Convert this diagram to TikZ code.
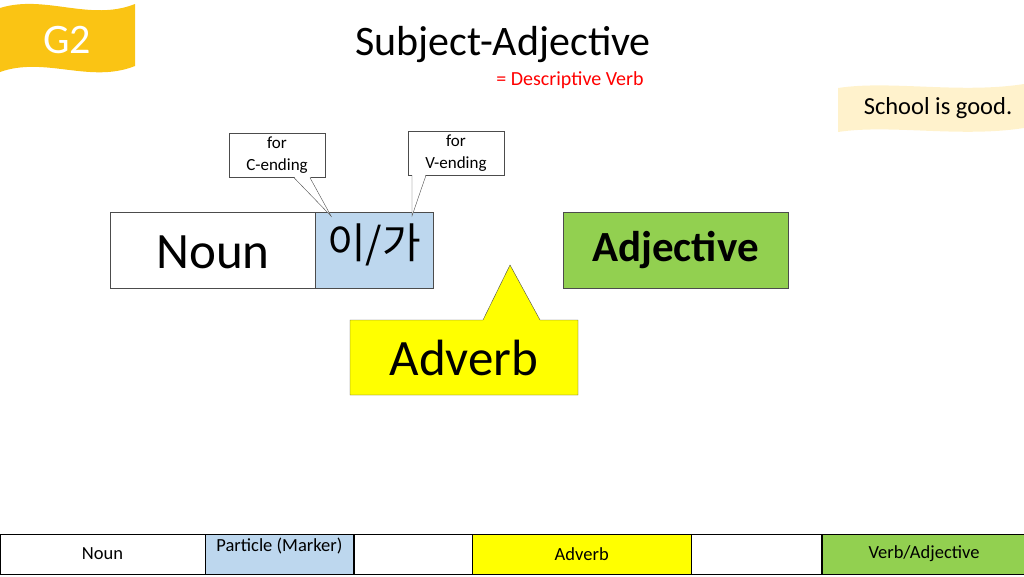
\documentclass[tikz,border=0pt]{standalone}
\usepackage{fontspec}
\setmainfont{Carlito}
\newfontfamily\kofont{Noto Sans CJK KR}
\usetikzlibrary{positioning, calc}
\definecolor{flagGold}{RGB}{250,196,20}
\definecolor{noteYellow}{RGB}{255,242,204}
\definecolor{particleBlue}{RGB}{189,215,238}
\definecolor{adjGreen}{RGB}{146,208,80}
\definecolor{adverbYellow}{RGB}{255,255,0}

\begin{document}
\begin{tikzpicture}[
    x=1pt, y=-1pt,
    wordbox/.style={rectangle, draw=black!70, inner sep=0pt},
    notebox/.style={rectangle, draw=black!70, fill=white, align=center, font=\fontsize{17}{22}\selectfont, minimum width=96pt, minimum height=44pt, inner sep=1pt},
    barcell/.style={rectangle, draw=black, inner sep=0pt, minimum height=40pt, font=\fontsize{18.5}{20}\selectfont}
]
\useasboundingbox (0,0) rectangle (1024,576);

% Corner flag and note
\fill[flagGold] (0,8) .. controls (45,-6) and (90,22) .. (135,4) -- (135,66)
  .. controls (90,84) and (45,56) .. (0,72) -- cycle;
\node[text=white, font=\fontsize{42}{44}\selectfont] (flag) at (67,40) {G2};
\fill[noteYellow] (838,88) .. controls (890,80) and (960,94) .. (1024,84) -- (1024,128)
  .. controls (960,138) and (890,124) .. (838,132) -- cycle;
\node[font=\fontsize{24.5}{27}\selectfont] (note) at (938,108) {School is good.};

% Title
\node[font=\fontsize{42}{44}\selectfont] (title) at (503,45) {Subject-Adjective};
\node[text=red, font=\fontsize{20}{22}\selectfont] (subtitle) at (570,80) {= Descriptive Verb};

% Sentence pattern
\node[wordbox, fill=white, minimum width=205pt, minimum height=76pt] (noun) at (212.5,250) {};
\node[font=\fontsize{51}{53}\selectfont] (nountext) at (213,252) {Noun};
\node[wordbox, fill=particleBlue, minimum width=118pt, minimum height=76pt, right=0pt of noun, anchor=west] (particle) {};
\node[font=\kofont\fontsize{42}{44}\selectfont] (particletext) at (374,245) {이/가};
\node[wordbox, fill=adjGreen, minimum width=225pt, minimum height=76pt, font=\bfseries\fontsize{43}{45}\selectfont] (adj) at (675.5,250) {Adjective};

% Ending notes
\node[notebox] (cnote) at (277,155.5) {for\\C-ending};
\node[notebox] (vnote) at (456,153) {for\\V-ending};
\coordinate (ctip) at (331,216);
\coordinate (vtip) at (412,216);
\fill[white] ($(cnote.south)+(17,-1)$) -- (ctip) -- ($(cnote.south)+(33,-1)$) -- cycle;
\draw[black!70] ($(cnote.south)+(17,0)$) -- (ctip) -- ($(cnote.south)+(33,0)$);
\fill[white] ($(vnote.south)+(-44,-1)$) -- (vtip) -- ($(vnote.south)+(-30,-1)$) -- cycle;
\draw[black!70] ($(vnote.south)+(-44,0)$) -- (vtip) -- ($(vnote.south)+(-30,0)$);

% Adverb callout
\draw[black!70, fill=adverbYellow] (350,320) -- (483,320) -- (510,265) -- (540,320)
  -- (578,320) -- (578,395) -- (350,395) -- cycle;
\node[font=\fontsize{51}{53}\selectfont] (adverb) at (464,358) {Adverb};

% Legend bar
\node[barcell, fill=white, minimum width=205pt] (lnoun) at (102.5,554) {Noun};
\node[barcell, fill=particleBlue, minimum width=148pt, right=0pt of lnoun] (lpart) {};
\node[font=\fontsize{18.5}{20}\selectfont, below=1pt of lpart.north] (lparttext) {Particle (Marker)};
\node[barcell, fill=white, minimum width=118pt, right=0pt of lpart] (lgap1) {};
\node[barcell, fill=adverbYellow, minimum width=219pt, right=0pt of lgap1] (ladv) {Adverb};
\node[barcell, fill=white, minimum width=130pt, right=0pt of ladv] (lgap2) {};
\node[barcell, fill=adjGreen, minimum width=204pt, right=0pt of lgap2] (lverb) {Verb/Adjective};
\end{tikzpicture}
\end{document}
